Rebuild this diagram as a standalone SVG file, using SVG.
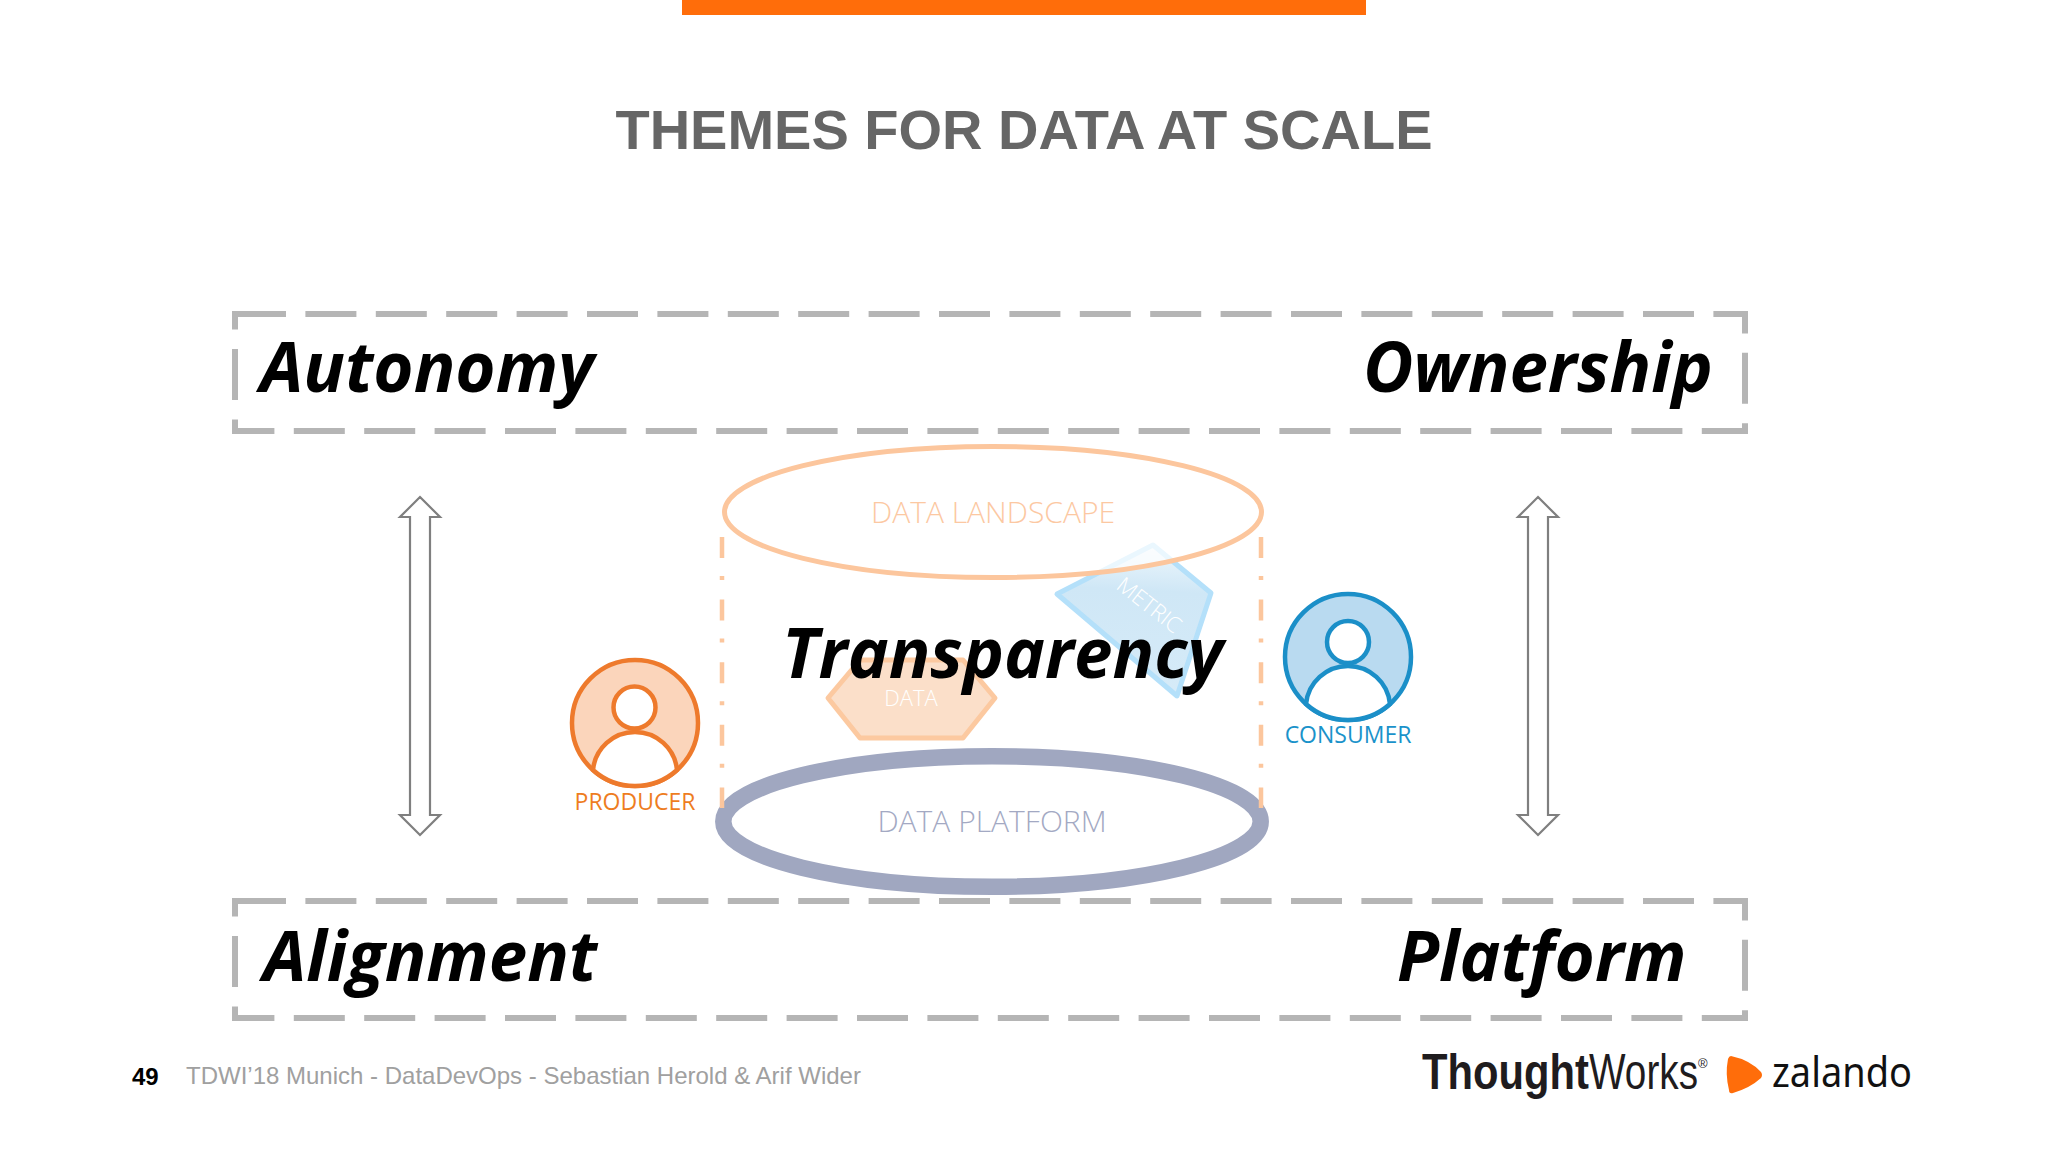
<svg xmlns="http://www.w3.org/2000/svg" width="2048" height="1152" viewBox="0 0 2048 1152">
<style>
.theme{fill:none;stroke:#b5b5b5;stroke-width:6;stroke-dasharray:51 19.4}
.big{font-family:"Open Sans",sans-serif;font-weight:700;font-style:italic;font-size:69px;fill:#000}
.light{font-family:"Open Sans",sans-serif;font-weight:300;font-size:30px;text-anchor:middle}
.lbl{font-family:"Open Sans",sans-serif;font-weight:400;font-size:23px;text-anchor:middle}
.arrow{fill:#fff;stroke:#7f7f7f;stroke-width:2.2;stroke-linejoin:miter}
.side{fill:none;stroke:#fcc69d;stroke-width:4.5;stroke-dasharray:21 18 4 19.6}
.prod{stroke:#ee7a2c;stroke-width:4.5}
.cons{stroke:#1b8fc8;stroke-width:4.5}
.foot{font-family:"Liberation Sans",Arial,sans-serif;font-size:24px}
</style>
<defs>
<linearGradient id="mg" x1="0.55" y1="0" x2="0.5" y2="1">
<stop offset="0" stop-color="#eef7fc"/><stop offset="0.3" stop-color="#cfe7f6"/><stop offset="1" stop-color="#d6ebf8"/>
</linearGradient>
</defs>
<rect width="2048" height="1152" fill="#fff"/>
<rect id="top-bar" x="682" y="0" width="684" height="15" fill="#ff6d0a"/>
<text id="title" x="1024" y="149" text-anchor="middle" font-family="Liberation Sans, Arial, sans-serif" font-weight="700" font-size="56" fill="#666">THEMES FOR DATA AT SCALE</text>

<g id="connectors">
<path class="arrow" d="M420 497L440 517H430V815H440L420 835L400 815H410V517H400Z"/>
<path class="arrow" d="M1538 497L1558 517H1548V815H1558L1538 835L1518 815H1528V517H1518Z"/>
</g>

<g id="autonomy-ownership">
<rect class="theme" x="235" y="314" width="1510" height="117"/>
<text class="big" x="260" y="392">Autonomy</text>
<text class="big" x="1363" y="392">Ownership</text>
</g>
<g id="alignment-platform">
<rect class="theme" x="235" y="901" width="1510" height="117"/>
<text class="big" x="263" y="981">Alignment</text>
<text class="big" x="1397" y="981">Platform</text>
</g>

<g id="metric">
<path d="M1153 545L1211 593L1177 696L1057 594Z" fill="url(#mg)" stroke="#b4e0fa" stroke-width="5" stroke-linejoin="round"/>
<text transform="translate(1115 588) rotate(38)" font-family="Open Sans, sans-serif" font-weight="300" font-size="22" fill="#fff">METRIC</text>
</g>
<g id="data-landscape">
<ellipse cx="993" cy="512" rx="268.5" ry="65.5" fill="#fff" fill-opacity="0.72" stroke="#fcc69d" stroke-width="5"/>
<text class="light" x="993" y="523" fill="#fcc8a2">DATA LANDSCAPE</text>
</g>
<g id="data">
<path d="M828 698L860 660H963L995 698L963 738H860Z" fill="#fbdfc9" stroke="#fcc9a0" stroke-width="5" stroke-linejoin="round"/>
<text x="911" y="706" text-anchor="middle" font-family="Open Sans, sans-serif" font-weight="300" font-size="22" fill="#fff">DATA</text>
</g>
<g id="data-platform">
<ellipse cx="992" cy="821.5" rx="268.7" ry="65.3" fill="#fff" stroke="#a0a7c0" stroke-width="16.5"/>
<text class="light" x="992" y="832" fill="#a3a9c3">DATA PLATFORM</text>
</g>
<g id="cylinder-sides">
<path class="side" d="M722 537V808"/>
<path class="side" d="M1261 537V808"/>
</g>

<text id="transparency" class="big" x="782" y="678">Transparency</text>

<g id="producer">
<circle class="prod" cx="635" cy="723" r="63" fill="#fbd5bb"/>
<path class="prod" d="M593 770A42.2 42.2 0 0 1 677 770A63 63 0 0 1 593 770Z" fill="#fff"/>
<circle class="prod" cx="634.5" cy="707.5" r="21" fill="#fff"/>
<text class="lbl" x="635" y="810" fill="#ee7d1f">PRODUCER</text>
</g>
<g id="consumer">
<circle class="cons" cx="1348" cy="657" r="63" fill="#b9daf0"/>
<path class="cons" d="M1306 704A42.2 42.2 0 0 1 1390 704A63 63 0 0 1 1306 704Z" fill="#fff"/>
<circle class="cons" cx="1348" cy="642" r="21" fill="#fff"/>
<text class="lbl" x="1348" y="743" fill="#1a92ca">CONSUMER</text>
</g>

<g id="footer">
<text class="foot" x="132" y="1085" font-weight="700" fill="#000">49</text>
<text class="foot" x="186" y="1084" fill="#a0a0a0">TDWI’18 Munich - DataDevOps - Sebastian Herold &amp; Arif Wider</text>
</g>
<g id="thoughtworks">
<text y="1089" font-family="Liberation Sans Narrow, Liberation Sans, sans-serif" font-size="50" fill="#1f1c1e"><tspan x="1422" font-weight="700" textLength="167" lengthAdjust="spacingAndGlyphs">Thought</tspan><tspan x="1589" textLength="109" lengthAdjust="spacingAndGlyphs">Works</tspan><tspan x="1698" y="1068" font-size="13">®</tspan></text>
</g>
<g id="zalando">
<path d="M1731 1056Q1750 1060 1761 1072Q1763 1075 1761 1078Q1750 1088 1733 1093Q1729 1094 1729 1090Q1725 1074 1728 1059Q1729 1056 1731 1056Z" fill="#ff6d0a"/>
<text x="1772" y="1087" font-family="Noto Sans, sans-serif" font-size="42" fill="#111" textLength="140" lengthAdjust="spacingAndGlyphs">zalando</text>
</g>
</svg>
